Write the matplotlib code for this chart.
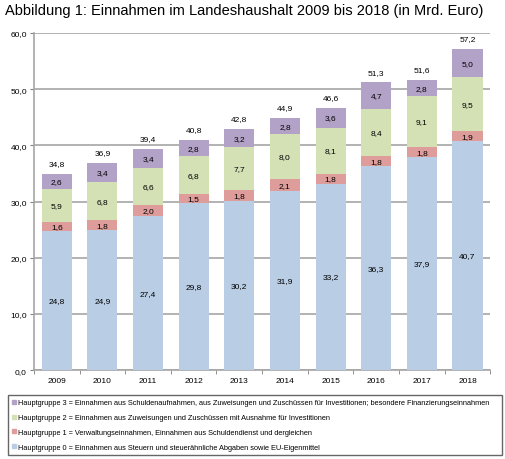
import matplotlib
matplotlib.use("Agg")
import matplotlib.pyplot as plt
from matplotlib.lines import Line2D
import numpy as np

plt.rcParams['font.family'] = ['Liberation Sans', 'DejaVu Sans']

years = ['2009', '2010', '2011', '2012', '2013', '2014', '2015', '2016', '2017', '2018']
hg0 = [24.8, 24.9, 27.4, 29.8, 30.2, 31.9, 33.2, 36.3, 37.9, 40.7]
hg1 = [1.6, 1.8, 2.0, 1.5, 1.8, 2.1, 1.8, 1.8, 1.8, 1.9]
hg2 = [5.9, 6.8, 6.6, 6.8, 7.7, 8.0, 8.1, 8.4, 9.1, 9.5]
hg3 = [2.6, 3.4, 3.4, 2.8, 3.2, 2.8, 3.6, 4.7, 2.8, 5.0]
totals = [34.8, 36.9, 39.4, 40.8, 42.8, 44.9, 46.6, 51.3, 51.6, 57.2]

labels = [
    'Hauptgruppe 3 = Einnahmen aus Schuldenaufnahmen, aus Zuweisungen und Zuschüssen für Investitionen; besondere Finanzierungseinnahmen',
    'Hauptgruppe 2 = Einnahmen aus Zuweisungen und Zuschüssen mit Ausnahme für Investitionen',
    'Hauptgruppe 1 = Verwaltungseinnahmen, Einnahmen aus Schuldendienst und dergleichen',
    'Hauptgruppe 0 = Einnahmen aus Steuern und steuerähnliche Abgaben sowie EU-Eigenmittel',
]
colors = ['#B9CDE5', '#DE9C9A', '#D3E1B5', '#B3A2C7']

def fmt(v):
    return f"{v:.1f}".replace('.', ',')

fig = plt.figure(figsize=(5.06, 4.6), dpi=100)
ax = fig.add_axes([0.067, 0.193, 0.902, 0.733])

x = np.arange(len(years))
bottom = np.zeros(len(years))
for vals, c in zip([hg0, hg1, hg2, hg3], colors):
    ax.bar(x, vals, 0.66, bottom=bottom, color=c, zorder=3)
    for xi, b, v in zip(x, bottom, vals):
        ax.text(xi, b + v / 2, fmt(v), ha='center', va='center', fontsize=6, zorder=4)
    bottom += np.array(vals)

for xi, top, t in zip(x, bottom, totals):
    ax.annotate(fmt(t), (xi, top), xytext=(0, 5), textcoords='offset points',
                ha='center', va='bottom', fontsize=6)

ax.set_xlim(-0.5, len(years) - 0.5)
ax.set_ylim(0, 60)
ax.set_yticks(np.arange(0, 61, 10))
ax.set_yticklabels([fmt(v) for v in np.arange(0, 61, 10)], fontsize=6)
ax.set_xticks(x)
ax.set_xticklabels(years, fontsize=6)
ax.set_xticks(np.arange(-0.5, len(years), 1), minor=True)
ax.tick_params(axis='x', which='major', length=0, pad=5)
ax.tick_params(axis='x', which='minor', length=3, color='#808080')
ax.tick_params(axis='y', length=3, color='#808080', pad=2)
ax.grid(axis='y', color='#A6A6A6', linewidth=1.2, zorder=0)
for s in ['top', 'right']:
    ax.spines[s].set_visible(False)
for s in ['left', 'bottom']:
    ax.spines[s].set_color('#A6A6A6')
    ax.spines[s].set_linewidth(1.2)

fig.text(0.01, 0.975, 'Abbildung 1: Einnahmen im Landeshaushalt 2009 bis 2018 (in Mrd. Euro)',
         fontsize=10.55, ha='left', va='center')

handles = [Line2D([], [], marker='s', linestyle='none', markersize=3, color=c)
           for c in [colors[3], colors[2], colors[1], colors[0]]]
leg = fig.legend(handles, labels, loc='upper left', bbox_to_anchor=(0.016, 1 - 396 / 460, 0.976, 0.0),
                 mode='expand', fontsize=5.3, frameon=True, fancybox=False, handlelength=0.6,
                 handletextpad=0.2, labelspacing=1.05, borderpad=0.55, borderaxespad=0)
leg.get_frame().set_edgecolor('#404040')
leg.get_frame().set_linewidth(1.0)

fig.savefig('out.png', dpi=100)
